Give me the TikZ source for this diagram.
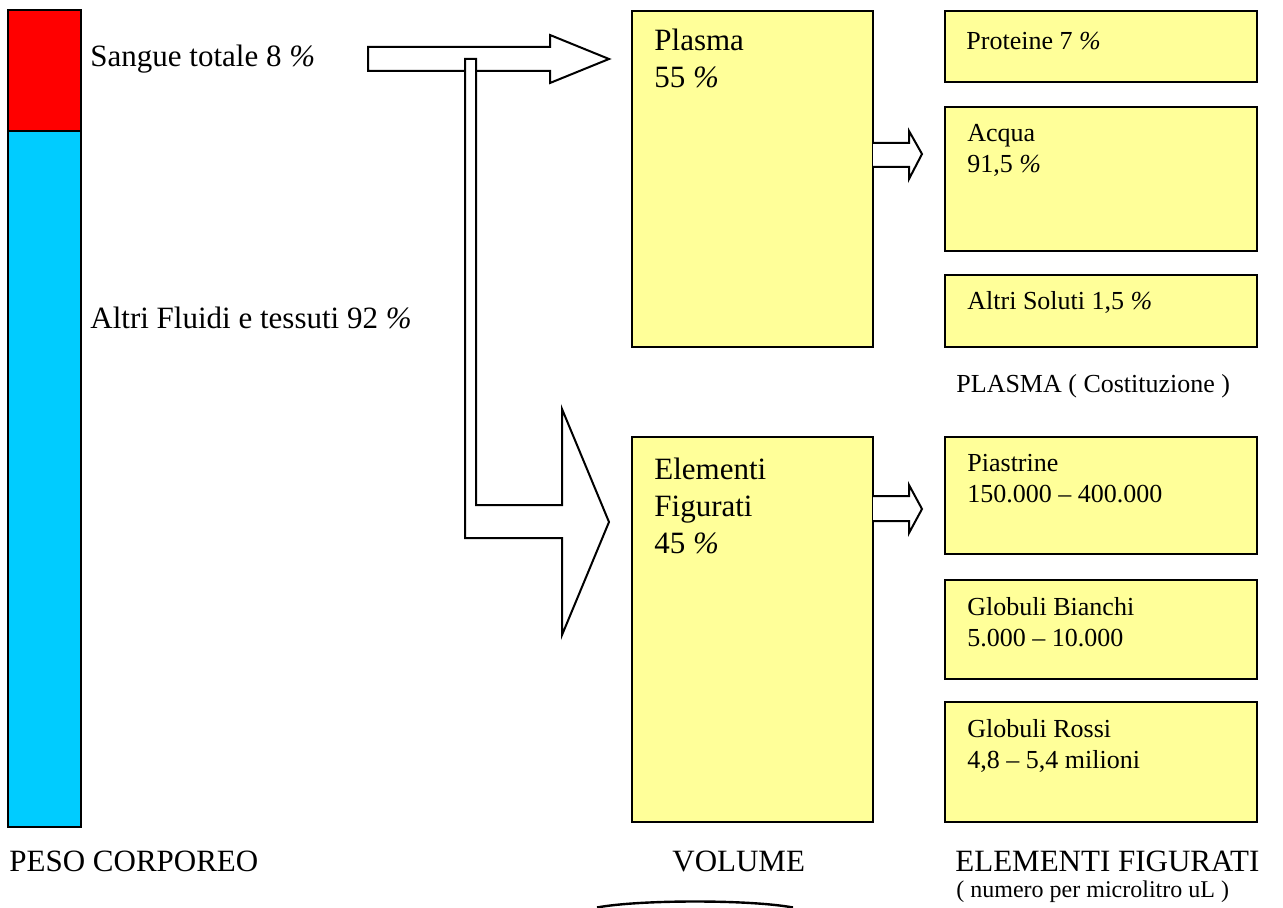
\documentclass[tikz,border=0pt]{standalone}
\usepackage{fontspec}
\setmainfont{Liberation Serif}
\definecolor{boxyellow}{HTML}{FFFF99}
\definecolor{barred}{HTML}{FF0000}
\definecolor{barblue}{HTML}{00CCFF}
\newcommand{\pct}{\textit{\%}}
\tikzset{
  px/.style 2 args={minimum width=#1*0.5pt, minimum height=#2*0.5pt, inner sep=0pt, outer sep=0pt},
  ybox/.style={draw=black, line width=1pt, fill=boxyellow},
  bar/.style={draw=black, line width=1pt},
  blockarrow/.style={draw=black, line width=1pt, fill=white, line join=miter},
  bigtxt/.style={inner sep=0pt, anchor=base west, align=left, font=\fontsize{15.5}{18.5}\selectfont},
  smalltxt/.style={inner sep=0pt, anchor=base west, align=left, font=\fontsize{13}{15.5}\selectfont},
  tinytxt/.style={inner sep=0pt, anchor=base west, font=\fontsize{12}{14}\selectfont},
}
\begin{document}
\begin{tikzpicture}[x=0.5pt, y=-0.5pt]
\useasboundingbox (0,0) rectangle (1283,908);
% body weight bar
\node[bar, fill=barred, px={73}{121}] (red) at (44.5,70.5) {};
\node[bar, fill=barblue, px={73}{696}] (blue) at (44.5,479) {};
\node[bigtxt] (sangue) at (90,67) {Sangue totale 8 \pct};
\node[bigtxt] (altri) at (90,329) {Altri Fluidi e tessuti 92 \pct};
\node[bigtxt] (peso) at (9,871) {PESO CORPOREO};
% volume boxes
\node[ybox, px={241}{336}] (plasma) at (752.5,179) {};
\node[ybox, px={241}{385}] (elem) at (752.5,629.5) {};
% (multi-line nodes: base = baseline of the last line)
\node[bigtxt] (plasmatxt) at (654,88) {Plasma\\55 \pct};
\node[bigtxt] (elemtxt) at (654,553) {Elementi\\Figurati\\45 \pct};
\node[bigtxt] (volume) at (672,871) {VOLUME};
% plasma constituents
\node[ybox, px={312}{71}] (prot) at (1101,46.5) {};
\node[ybox, px={312}{144}] (acqua) at (1101,179) {};
\node[ybox, px={312}{72}] (soluti) at (1101,311) {};
\node[smalltxt] (prottxt) at (966,50) {Proteine 7 \pct};
\node[smalltxt] (acquatxt) at (967,173) {Acqua\\91,5 \pct};
\node[smalltxt] (solutitxt) at (967,310) {Altri Soluti 1,5 \pct};
\node[smalltxt] (plasmacap) at (956,393) {PLASMA ( Costituzione )};
% formed elements
\node[ybox, px={312}{117}] (piast) at (1101,495.5) {};
\node[ybox, px={312}{99}] (bianchi) at (1101,629.5) {};
\node[ybox, px={312}{120}] (rossi) at (1101,762) {};
\node[smalltxt] (piasttxt) at (967,502) {Piastrine\\150.000 -- 400.000};
\node[smalltxt] (bianchitxt) at (967,646) {Globuli Bianchi\\5.000 -- 10.000};
\node[smalltxt] (rossitxt) at (967,768) {Globuli Rossi\\4,8 -- 5,4 milioni};
\node[bigtxt] (elemcap) at (955,871) {ELEMENTI FIGURATI};
\node[tinytxt] (unit) at (956,897) {( numero per microlitro uL )};
% top block arrow
\draw[blockarrow] (368,47) -- (550,47) -- (550,35) -- (609,59) -- (550,83) -- (550,71) -- (368,71) -- cycle;
% bent block arrow
\draw[blockarrow] (465,59) -- (476,59) -- (476,505) -- (562,505) -- (562,409) -- (609,522) -- (562,635) -- (562,538) -- (465,538) -- cycle;
% small arrows
\draw[blockarrow] (plasma.east |- 0,143) -- (909,143) -- (909,131) -- (922,154) -- (909,179) -- (909,167) -- (plasma.east |- 0,167);
\draw[blockarrow] (elem.east |- 0,496) -- (909,496) -- (909,485) -- (922,509) -- (909,533) -- (909,521) -- (elem.east |- 0,521);
% bottom arc
\draw[line width=1.2pt] (597,907.5) .. controls (640,899.5) and (750,899.5) .. (793,907.5);
\end{tikzpicture}
\end{document}
